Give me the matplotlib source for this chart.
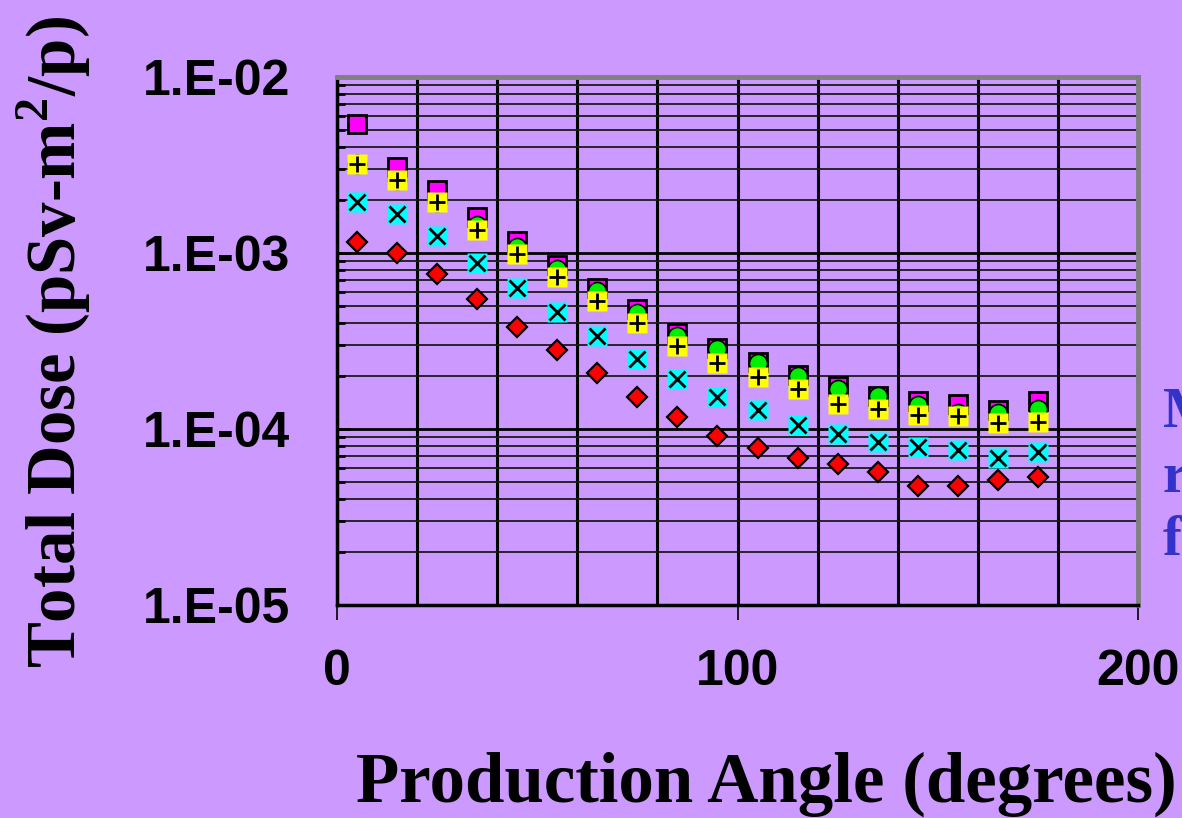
import numpy as np
import matplotlib
matplotlib.use("Agg")
import matplotlib.pyplot as plt
from matplotlib.ticker import FixedLocator, LogLocator, NullFormatter, FuncFormatter, MultipleLocator

# Production angle (degrees) and total dose per series (pSv-m^2/p)
angles = [5, 15, 25, 35, 45, 55, 65, 75, 85, 95, 105, 115, 125, 135, 145, 155, 165, 175]

dose_magenta = [5.38e-3, 3.07e-3, 2.27e-3, 1.60e-3, 1.165e-3, 8.51e-4, 6.30e-4, 4.79e-4, 3.50e-4,
                2.87e-4, 2.39e-4, 2.02e-4, 1.75e-4, 1.53e-4, 1.44e-4, 1.38e-4, 1.28e-4, 1.44e-4]
dose_green = [3.18e-3, 2.59e-3, 1.94e-3, 1.44e-3, 1.077e-3, 8.08e-4, 6.06e-4, 4.54e-4, 3.36e-4,
              2.84e-4, 2.36e-4, 1.99e-4, 1.68e-4, 1.53e-4, 1.36e-4, 1.23e-4, 1.23e-4, 1.29e-4]
dose_yellow = [3.18e-3, 2.59e-3, 1.94e-3, 1.35e-3, 9.83e-4, 7.28e-4, 5.32e-4, 3.99e-4, 2.95e-4,
               2.36e-4, 1.97e-4, 1.68e-4, 1.38e-4, 1.29e-4, 1.20e-4, 1.18e-4, 1.08e-4, 1.09e-4]
dose_cyan = [1.94e-3, 1.66e-3, 1.244e-3, 8.74e-4, 6.30e-4, 4.61e-4, 3.36e-4, 2.49e-4, 1.92e-4,
             1.51e-4, 1.28e-4, 1.05e-4, 9.33e-5, 8.40e-5, 7.87e-5, 7.57e-5, 6.82e-5, 7.38e-5]
dose_red = [1.15e-3, 9.96e-4, 7.57e-4, 5.46e-4, 3.78e-4, 2.80e-4, 2.07e-4, 1.51e-4, 1.165e-4,
            9.09e-5, 7.77e-5, 6.82e-5, 6.30e-5, 5.68e-5, 4.72e-5, 4.72e-5, 5.11e-5, 5.32e-5]

x_ticks = [0, 100, 200]
y_ticks = [1e-5, 1e-4, 1e-3, 1e-2]

BG = "#CC99FF"
plt.rcParams["mathtext.fontset"] = "custom"
plt.rcParams["mathtext.rm"] = "Liberation Serif:bold"
plt.rcParams["mathtext.bf"] = "Liberation Serif:bold"

W, H = 1182, 818
fig = plt.figure(figsize=(W / 100, H / 100), dpi=100, facecolor=BG)
ax = fig.add_axes([337 / W, 1 - 604.7 / H, (1138 - 337) / W, (604.7 - 76.7) / H])
ax.set_facecolor(BG)

ax.set_xlim(0, 200)
ax.set_yscale("log")
ax.set_ylim(1e-5, 1e-2)

# grid
ax.xaxis.set_major_locator(FixedLocator(x_ticks))
ax.xaxis.set_minor_locator(MultipleLocator(20))
ax.yaxis.set_major_locator(FixedLocator(y_ticks))
ax.yaxis.set_minor_locator(LogLocator(base=10, subs=np.arange(2, 10)))
ax.yaxis.set_minor_formatter(NullFormatter())
ax.yaxis.set_major_formatter(FuncFormatter(lambda v, p: "1.E-%02d" % int(round(-np.log10(v)))))

ax.grid(True, which="both", axis="x", color="black", lw=2.2)
ax.grid(True, which="major", axis="y", color="black", lw=2.0)
ax.grid(True, which="minor", axis="y", color="#1a1a1a", lw=1.3)
ax.set_axisbelow(True)

ax.tick_params(axis="x", which="major", direction="out", length=11, width=1.2,
               pad=21, labelsize=36, color="black")
ax.tick_params(axis="x", which="minor", length=0)
ax.tick_params(axis="y", which="major", direction="in", length=9, width=2,
               pad=34, labelsize=36)
ax.tick_params(axis="y", which="minor", direction="in", length=6, width=2)
for lab in ax.get_xticklabels() + ax.get_yticklabels():
    lab.set_fontfamily("Liberation Sans")
    lab.set_fontweight("bold")

for side in ("top", "right"):
    ax.spines[side].set_color("#808080")
    ax.spines[side].set_linewidth(3.5)
for side in ("left", "bottom"):
    ax.spines[side].set_color("black")
    ax.spines[side].set_linewidth(2.5)

# series
ax.plot(angles, dose_magenta, ls="none", marker="s", ms=13.5, mfc="#FF00FF", mec="black", mew=2, zorder=3)
ax.plot(angles, dose_green, ls="none", marker="o", ms=13, mfc="#00EE00", mec="black", mew=1.2, zorder=4)
ax.plot(angles, dose_yellow, ls="none", marker="s", ms=14.5, mfc="#FFFF00", mec="none", zorder=5)
ax.plot(angles, dose_yellow, ls="none", marker="+", ms=12, mec="black", mew=2, zorder=6)
ax.plot(angles, dose_cyan, ls="none", marker="s", ms=14.5, mfc="#00FFFF", mec="none", zorder=5)
ax.plot(angles, dose_cyan, ls="none", marker="x", ms=11.5, mec="black", mew=2, zorder=6)
ax.plot(angles, dose_red, ls="none", marker="D", ms=10, mfc="#FF0000", mec="black", mew=1.6, zorder=5)

# axis titles
fig.text(766 / W, 1 - 784 / H, "Production Angle (degrees)", fontsize=51,
         family="Liberation Serif", weight="bold", ha="center", va="center")
fig.text(54 / W, 1 - 342 / H, r"Total Dose (pSv-m$^{2}$/p)", fontsize=49.5,
         family="Liberation Serif", weight="bold", ha="center", va="center", rotation=90)

# side note, running off the right edge
for txt, yb in (("M", 427), ("r", 492), ("f", 555)):
    fig.text(1163 / W, 1 - yb / H, txt, fontsize=41, family="Liberation Serif",
             weight="bold", color="#3333CC", ha="left", va="baseline")

fig.savefig("out.png", dpi=100, facecolor=BG)
